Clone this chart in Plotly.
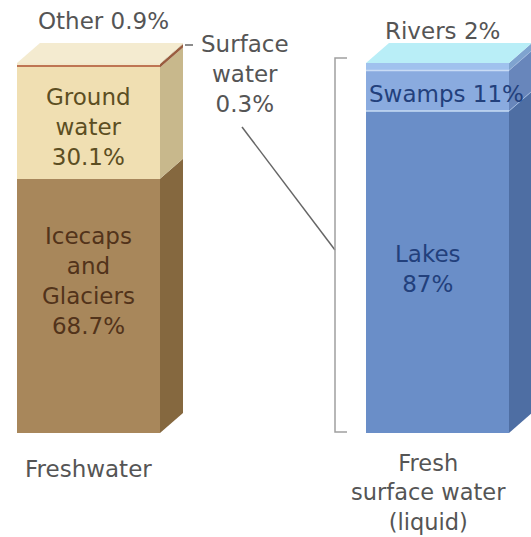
import plotly.graph_objects as go

# ---------------- data ----------------
fresh_labels = ["Icecaps and Glaciers", "Ground water", "Other", "Surface water"]
fresh_values = [68.7, 30.1, 0.9, 0.3]
surface_labels = ["Lakes", "Swamps", "Rivers"]
surface_values = [87, 11, 2]
bar_names = ["Freshwater", "Fresh<br>surface water<br>(liquid)"]

# ---------------- styles ----------------
fresh_front = ["#a8875b", "#f0dfb2", "#bf7553", "#f3e8cb"]
fresh_side = ["#85683f", "#c8b88c", "#995c3f", "#d9cda8"]
fresh_top = "#f4ebd0"
surf_front = ["#6a8ec8", "#8aabdf", "#a0c2ee"]
surf_side = ["#4e6ea3", "#6886bb", "#7fa3cf"]
surf_top = "#b9eef7"

W, H = 531, 537
PX0, PX100 = 433.0, 63.0          # pixel rows of 0 % and 100 %
S = (PX0 - PX100) / 100.0          # pixels per unit
def Y(py):
    return (PX0 - py) / S

bar_x = [88.5, 437.5]
bar_w = 143
DX, DY = 23, 20 / S                 # depth of the 3D side

fig = go.Figure()
shapes = []

def add_bar(xc, values, labels, front, side, top):
    base = 0.0
    xl, xr = xc - bar_w / 2, xc + bar_w / 2
    for v, lab, fc, sc in zip(values, labels, front, side):
        fig.add_trace(go.Bar(x=[xc], y=[v], width=bar_w, name=lab,
                             marker=dict(color=fc, line=dict(width=0)),
                             hoverinfo="name+y", showlegend=False))
        y0, y1 = base, base + v
        shapes.append(dict(type="path", xref="x", yref="y",
                           path=f"M {xr},{y0} L {xr+DX},{y0+DY} L {xr+DX},{y1+DY} L {xr},{y1} Z",
                           fillcolor=sc, line=dict(width=0), layer="above"))
        base = y1
    shapes.append(dict(type="path", xref="x", yref="y",
                       path=f"M {xl},{base} L {xl+DX},{base+DY} L {xr+DX},{base+DY} L {xr},{base} Z",
                       fillcolor=top, line=dict(width=0), layer="above"))

add_bar(bar_x[0], fresh_values, fresh_labels, fresh_front, fresh_side, fresh_top)
add_bar(bar_x[1], surface_values, surface_labels, surf_front, surf_side, surf_top)

# thin light separators on the right bar
cum = 0
for v in surface_values[:-1]:
    cum += v
    shapes.append(dict(type="line", xref="x", yref="y",
                       x0=bar_x[1] - bar_w / 2, x1=bar_x[1] + bar_w / 2, y0=cum, y1=cum,
                       line=dict(color="#c9dcf5", width=1.5), layer="above"))
    shapes.append(dict(type="line", xref="x", yref="y",
                       x0=bar_x[1] + bar_w / 2, x1=bar_x[1] + bar_w / 2 + DX, y0=cum, y1=cum + DY,
                       line=dict(color="#9db6dc", width=1), layer="above"))

# connectors / bracket
shapes.append(dict(type="line", xref="x", yref="y", x0=185, x1=193, y0=Y(45), y1=Y(45),
                   line=dict(color="#666666", width=1.5)))
shapes.append(dict(type="line", xref="x", yref="y", x0=242, x1=335, y0=Y(127), y1=Y(250),
                   line=dict(color="#666666", width=1.5)))
shapes.append(dict(type="path", xref="x", yref="y",
                   path=f"M 347,{Y(58)} L 335,{Y(58)} L 335,{Y(432)} L 347,{Y(432)}",
                   line=dict(color="#a0a0a0", width=1.5)))

FONT = "DejaVu Sans"
FS = 23
ann = []
def A(text, x, py, color, fs=FS):
    ann.append(dict(text=text, x=x, y=Y(py), xref="x", yref="y", showarrow=False,
                    xanchor="center", yanchor="middle",
                    font=dict(family=FONT, size=fs, color=color)))

outer = "#555555"
A(f"{fresh_labels[2]} {fresh_values[2]}%", 103, 21, outer)
A(f"Surface<br>water<br>{fresh_values[3]}%", 245, 74, outer)
A(f"Ground<br>water<br>{fresh_values[1]}%", 88, 127, "#5c4e22")
A(f"Icecaps<br>and<br>Glaciers<br>{fresh_values[0]}%", 88, 281, "#52331a")
A(f"{surface_labels[2]} {surface_values[2]}%", 442, 31, outer)
A(f"{surface_labels[1]} {surface_values[1]}%", 446, 94, "#22407c")
A(f"{surface_labels[0]}<br>{surface_values[0]}%", 428, 269, "#22407c")
A(bar_names[0], 88, 469, outer)
A(bar_names[1], 428, 492, outer, 22.5)

fig.update_layout(
    width=W, height=H, autosize=False,
    margin=dict(l=0, r=0, t=0, b=0),
    paper_bgcolor="white", plot_bgcolor="white",
    barmode="stack", bargap=0,
    xaxis=dict(range=[0, W], visible=False, fixedrange=True),
    yaxis=dict(range=[Y(H), Y(0)], visible=False, fixedrange=True),
    shapes=shapes, annotations=ann,
)

fig.write_html("out.html")
